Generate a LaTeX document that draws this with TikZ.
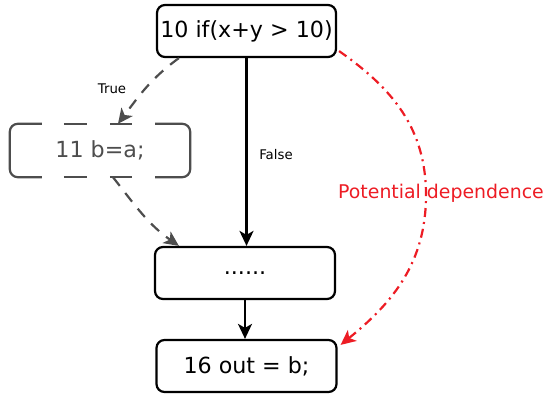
\documentclass[tikz,border=0pt]{standalone}
\usepackage{fontspec}
\setmainfont{DejaVu Sans}
\usetikzlibrary{arrows.meta}
\definecolor{redline}{RGB}{237,28,36}
\definecolor{grayline}{RGB}{77,77,77}
\begin{document}
\begin{tikzpicture}[x=1pt,y=1pt,
  box/.style={draw, line width=2.2pt, rounded corners=8pt, minimum width=180pt, minimum height=52pt, inner sep=0pt, font=\fontsize{22.2}{26}\selectfont},
  grbox/.style={minimum width=180pt, minimum height=53pt, inner sep=0pt, text=grayline, font=\fontsize{22.2}{26}\selectfont},
  grborder/.style={draw=grayline, line width=2.2pt, rounded corners=8pt},
  solidarrow/.style={line width=2.2pt, -{Stealth[length=15pt,width=14pt,inset=4pt]}},
  grayarrow/.style={line width=2.2pt, draw=grayline, dash pattern=on 11pt off 9pt, -{Stealth[length=15pt,width=14pt,inset=4pt,fill=grayline]}},
  redarrow/.style={line width=2.2pt, draw=redline, dash pattern=on 9pt off 5pt on 2pt off 5pt, -{Stealth[length=15pt,width=14pt,inset=4pt]}},
  small/.style={font=\fontsize{13.3}{16}\selectfont, inner sep=0pt}
]
\useasboundingbox (0,0) rectangle (545,399);
\node[box, minimum width=179pt] (top) at (246.5,368) {10 if(x+y > 10)\hspace{5pt}};
\node[grbox] (ba) at (100,248.5) {11 b=a;};
\node[box] (dots) at (245,126) {......};
\node[box] (out) at (246.5,33) {16 out = b;\hspace{3pt}};

% dashed border of "11 b=a;"
\draw[grborder] ([xshift=32pt]ba.north west) -- (ba.north west) -- (ba.south west) -- ([xshift=32pt]ba.south west);
\draw[grborder] ([xshift=-35pt]ba.north east) -- (ba.north east) -- (ba.south east) -- ([xshift=-35pt]ba.south east);
\foreach \a/\b in {54/77,100/122}{
  \draw[grborder] ([xshift=\a pt]ba.north west) -- ([xshift=\b pt]ba.north west);
  \draw[grborder] ([xshift=\a pt]ba.south west) -- ([xshift=\b pt]ba.south west);
}

\draw[solidarrow] (top.south) -- (top.south |- dots.north);
\draw[solidarrow] (dots.south) -- (dots.south |- out.north);
\draw[grayarrow] ([xshift=23pt]top.south west) to[out=216,in=53] ([xshift=18pt]ba.north);
\draw[grayarrow] ([xshift=13pt]ba.south) to[out=-52,in=145] ([xshift=25pt]dots.north west);
\coordinate (pm) at (426,204);
\draw[redarrow] ([shift={(2pt,7pt)}]top.south east) to[out=-35,in=90] (pm) to[out=-90,in=39] ([shift={(3pt,-6pt)}]out.north east);

\node[small] (tl) at (112,310) {True};
\node[small] (fl) at (276,244) {False};
\node[font=\fontsize{18.9}{22}\selectfont, text=redline, inner sep=0pt] (pd) at (441,206) {Potential dependence};
\end{tikzpicture}
\end{document}
